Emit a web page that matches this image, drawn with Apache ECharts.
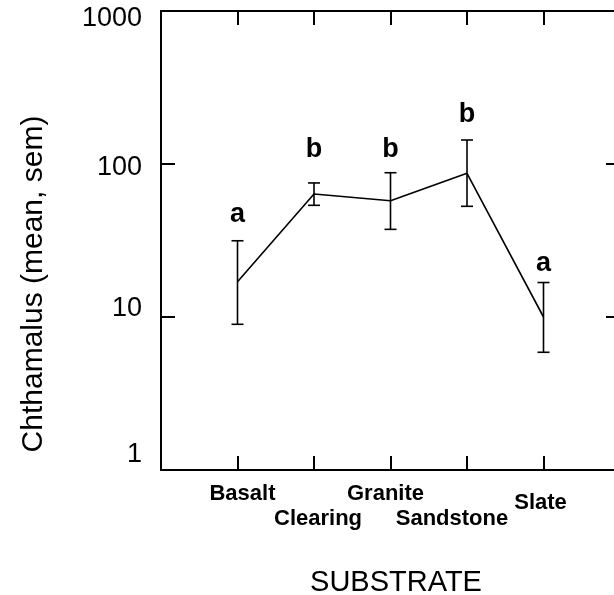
<!DOCTYPE html>
<html>
<head>
<meta charset="utf-8">
<script src="https://cdn.jsdelivr.net/npm/echarts@6/dist/echarts.min.js"></script>
<style>html,body{margin:0;padding:0;background:#fff;}#c{width:614px;height:595px;}</style>
</head>
<body>
<div id="c"></div>
<script>
var categories = ['Basalt', 'Clearing', 'Granite', 'Sandstone', 'Slate'];
var means = [17.0, 63.7, 57.5, 86.9, 10.0];
var upper = [31.5, 75.2, 87.7, 143.5, 16.8];
var lower = [8.96, 53.7, 37.4, 52.9, 5.88];
var letters = ['a', 'b', 'b', 'b', 'a'];
var letterAt = [46.4, 125, 125, 209, 22.5];
var yTicks = [1, 10, 100, 1000];

var chart = echarts.init(document.getElementById('c'), null, {renderer: 'canvas'});
var FONT = 'Liberation Sans, Arial, sans-serif';

var meanData = means.map(function (v, i) { return [i + 1, v]; });
var errData = means.map(function (v, i) { return [i + 1, lower[i], upper[i]]; });
var letterData = letters.map(function (t, i) { return [i + 1, letterAt[i], t]; });

var catStyle = ['up', 'dn', 'up2', 'dn2', 'mid'];
function cs(pad) {
  return {fontFamily: FONT, fontSize: 22, fontWeight: 'bold', color: '#000', lineHeight: 24, padding: pad};
}
function ys(pad) {
  return {fontFamily: FONT, fontSize: 27, color: '#000', padding: pad};
}
var axLine = {show: true, onZero: false, lineStyle: {color: '#000', width: 2}};

var option = {
  backgroundColor: '#fff',
  animation: false,
  grid: {left: 161, top: 11, width: 459, height: 459, containLabel: false, outerBoundsMode: 'none'},
  xAxis: [{
    type: 'value', min: 0, max: 6, interval: 1, position: 'bottom',
    axisLine: axLine,
    axisTick: {show: true, inside: true, length: 14, lineStyle: {color: '#000', width: 2}},
    splitLine: {show: false},
    axisLabel: {
      show: true, margin: 12, hideOverlap: false,
      formatter: function (v) {
        var i = Math.round(v) - 1;
        if (i < 0 || i >= categories.length) return '';
        return '{' + catStyle[i] + '|' + categories[i] + '}';
      },
      rich: {
        up: cs([0, 0, 0, 10]),
        dn: cs([50, 0, 0, 8]),
        up2: cs([0, 10, 0, 0]),
        dn2: cs([50, 30, 0, 0]),
        mid: cs([18, 6, 0, 0])
      }
    }
  }, {
    type: 'value', min: 0, max: 6, interval: 1, position: 'top',
    axisLine: axLine,
    axisTick: {show: true, inside: true, length: 14, lineStyle: {color: '#000', width: 2}},
    axisLabel: {show: false}, splitLine: {show: false}
  }],
  yAxis: [{
    type: 'log', logBase: 10, min: 1, max: 1000, position: 'left',
    axisLine: axLine,
    axisTick: {show: true, inside: true, length: 14, lineStyle: {color: '#000', width: 2}},
    minorTick: {show: false},
    splitLine: {show: false},
    axisLabel: {
      show: true, margin: 19, hideOverlap: false,
      formatter: function (v) {
        var r = Math.round(v);
        var key = r === 1000 ? 'k' : r === 100 ? 'h' : r === 10 ? 't' : 'o';
        return '{' + key + '|' + r + '}';
      },
      rich: {
        k: ys([16, 0, 0, 0]),
        h: ys([8, 0, 0, 0]),
        t: ys([0, 0, 16, 0]),
        o: ys([0, 0, 30, 0])
      }
    }
  }, {
    type: 'log', logBase: 10, min: 1, max: 1000, position: 'right',
    axisLine: axLine,
    axisTick: {show: true, inside: true, length: 14, lineStyle: {color: '#000', width: 2}},
    axisLabel: {show: false}, splitLine: {show: false}
  }],
  graphic: [{
    type: 'text', x: 34, y: 284, rotation: Math.PI / 2,
    style: {text: 'Chthamalus (mean, sem)', fontFamily: FONT, fontSize: 30, fill: '#000', align: 'center', verticalAlign: 'middle'}
  }, {
    type: 'text', x: 396, y: 583,
    style: {text: 'SUBSTRATE', fontFamily: FONT, fontSize: 29, fill: '#000', align: 'center', verticalAlign: 'middle'}
  }],
  series: [{
    type: 'line', xAxisIndex: 0, yAxisIndex: 0,
    data: meanData, symbol: 'none',
    lineStyle: {color: '#000', width: 1.6}
  }, {
    type: 'custom', xAxisIndex: 0, yAxisIndex: 0,
    data: errData,
    renderItem: function (params, api) {
      var x = api.value(0);
      var lo = api.coord([x, api.value(1)]);
      var hi = api.coord([x, api.value(2)]);
      var hw = 6;
      var st = {stroke: '#000', lineWidth: 1.6};
      return {type: 'group', children: [
        {type: 'line', shape: {x1: lo[0], y1: lo[1], x2: hi[0], y2: hi[1]}, style: st},
        {type: 'line', shape: {x1: hi[0] - hw, y1: hi[1], x2: hi[0] + hw, y2: hi[1]}, style: st},
        {type: 'line', shape: {x1: lo[0] - hw, y1: lo[1], x2: lo[0] + hw, y2: lo[1]}, style: st}
      ]};
    }
  }, {
    type: 'custom', xAxisIndex: 0, yAxisIndex: 0,
    data: letterData,
    renderItem: function (params, api) {
      var p = api.coord([api.value(0), api.value(1)]);
      return {type: 'text', x: p[0], y: p[1],
        style: {text: letterData[params.dataIndex][2], fontFamily: FONT, fontSize: 27, fontWeight: 'bold', fill: '#000', align: 'center', verticalAlign: 'middle'}};
    }
  }]
};
chart.setOption(option);
</script>
</body>
</html>
